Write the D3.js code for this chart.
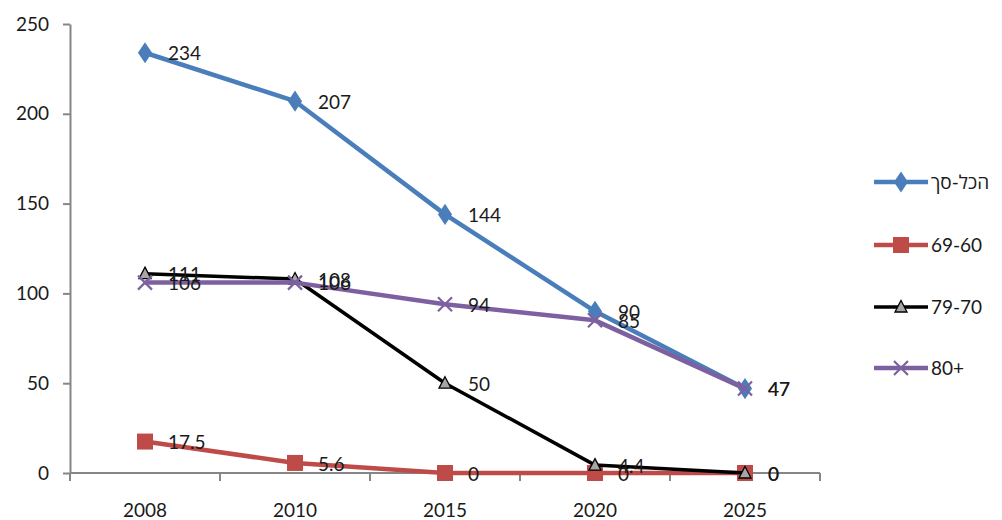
<!DOCTYPE html>
<html lang="he">
<head>
<meta charset="utf-8">
<title>chart</title>
<script src="https://d3js.org/d3.v7.min.js"></script>
<style>
  body { margin: 0; background: #fff; }
  svg { display: block; }
  svg text { font-family: Lato, "Open Sans", sans-serif; fill: #1a1a1a; }
  .axis path, .axis line { stroke: #868686; stroke-width: 2; }
</style>
</head>
<body>
<script>
const years = ["2008", "2010", "2015", "2020", "2025"];
const seriesNames = ["הכל-סך", "69-60", "79-70", "80+"];
const totalVals = [234, 207, 144, 90, 47];
const age6069 = [17.5, 5.6, 0, 0, 0];
const age7079 = [111, 108, 50, 4.4, 0];
const age80 = [106, 106, 94, 85, 47];
const yTicks = [0, 50, 100, 150, 200, 250];

const w = 1002, h = 520;
const padL = 70, padR = 820, padT = 24, padB = 473;

const series = [
  { name: seriesNames[0], values: totalVals, color: "#4A7EBB", width: 4.5, marker: "diamond" },
  { name: seriesNames[1], values: age6069, color: "#BE4B48", width: 4.5, marker: "square" },
  { name: seriesNames[2], values: age7079, color: "#000000", width: 3.5, marker: "triangle" },
  { name: seriesNames[3], values: age80, color: "#7D60A0", width: 4.5, marker: "x" }
];

const svg = d3.select("body").append("svg").attr("width", w).attr("height", h);

const x = d3.scaleBand().domain(years).range([padL, padR]).padding(0);
const cx = d => x(d) + x.bandwidth() / 2;
const y = d3.scaleLinear().domain([0, 250]).range([padB, padT]);

// y axis
const yAxis = d3.axisLeft(y).tickValues(yTicks).tickSize(7).tickSizeOuter(0).tickPadding(14);
const gy = svg.append("g").attr("class", "axis").attr("transform", "translate(" + padL + ",0)").call(yAxis);
gy.selectAll("text").style("font-size", "19px");

// x axis: labels at category centers, ticks on band edges
const gx = svg.append("g").attr("class", "axis").attr("transform", "translate(0," + padB + ")");
gx.append("line").attr("x1", padL).attr("x2", padR).attr("y1", 0).attr("y2", 0);
const edges = years.map(d => x(d)).concat([padR]);
gx.selectAll("line.tk").data(edges).enter().append("line").attr("class", "tk")
  .attr("x1", d => d).attr("x2", d => d).attr("y1", 0).attr("y2", 8);
gx.selectAll("text").data(years).enter().append("text")
  .attr("x", d => cx(d)).attr("y", 44).attr("text-anchor", "middle")
  .style("font-size", "19px").text(d => d);

const line = d3.line().x((d, i) => cx(years[i])).y(d => y(d));

function drawMarker(g, type, color) {
  if (type === "diamond") {
    g.append("path").attr("d", d3.symbol(d3.symbolDiamond, 130)()).attr("fill", color)
      .attr("transform", "scale(1.15,1)");
  } else if (type === "square") {
    g.append("rect").attr("x", -8).attr("y", -8).attr("width", 16).attr("height", 16).attr("fill", color);
  } else if (type === "triangle") {
    g.append("path").attr("d", "M0,-6.5L6,5L-6,5Z").attr("fill", "#A6A6A6")
      .attr("stroke", "#000").attr("stroke-width", 1.3);
  } else if (type === "x") {
    g.append("path").attr("d", "M-7,-7L7,7M-7,7L7,-7").attr("stroke", color)
      .attr("stroke-width", 2.2).attr("fill", "none");
  }
}

series.forEach(s => {
  svg.append("path").datum(s.values).attr("d", line)
    .attr("fill", "none").attr("stroke", s.color).attr("stroke-width", s.width)
    .attr("stroke-linejoin", "round");
  s.values.forEach((v, i) => {
    const g = svg.append("g").attr("transform", "translate(" + cx(years[i]) + "," + y(v) + ")");
    drawMarker(g, s.marker, s.color);
  });
});

// data labels
series.forEach(s => {
  svg.selectAll(null).data(s.values).enter().append("text")
    .attr("x", (d, i) => cx(years[i]) + 23)
    .attr("y", d => y(d) + 1)
    .attr("dy", "0.35em")
    .style("font-size", "19px")
    .text(d => d);
});

// legend
const legX = 874;
const legY = [182, 245, 307, 368];
series.forEach((s, i) => {
  const g = svg.append("g").attr("transform", "translate(" + legX + "," + legY[i] + ")");
  g.append("line").attr("x1", 0).attr("x2", 54).attr("stroke", s.color).attr("stroke-width", s.width);
  const m = g.append("g").attr("transform", "translate(27,0)");
  drawMarker(m, s.marker, s.color);
  g.append("text").attr("x", 57).attr("dy", "0.35em").style("font-size", "19px").text(s.name);
});
</script>
</body>
</html>
